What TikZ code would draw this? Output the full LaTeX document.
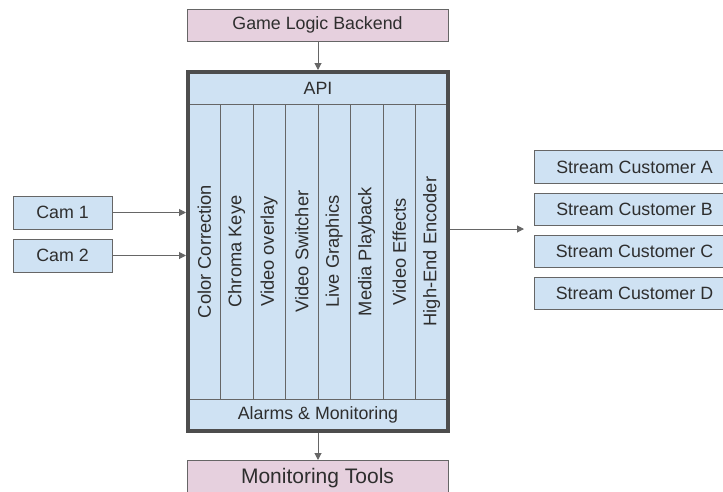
\documentclass[tikz,border=0pt]{standalone}
\usepackage{fontspec}
\setmainfont{Liberation Sans}
\usetikzlibrary{arrows.meta}
\definecolor{pinkf}{HTML}{E6D0DE}
\definecolor{bluef}{HTML}{CFE2F3}
\definecolor{edgec}{HTML}{666666}
\definecolor{framec}{HTML}{4D4D4D}
\definecolor{txtc}{HTML}{2E2E2E}
\tikzset{
  box/.style={draw=edgec, line width=1pt, inner sep=0pt, outer sep=0pt, text=txtc,
    font=\fontsize{17.8}{20}\selectfont},
  pinkbox/.style={box, fill=pinkf},
  bluebox/.style={box, fill=bluef},
  col/.style={draw=edgec, line width=0.8pt, fill=bluef, inner sep=0pt, outer sep=0pt,
    minimum width=32.5pt, minimum height=295pt, text=txtc, font=\fontsize{18.3}{20}\selectfont},
  conn/.style={draw=edgec, line width=1pt, -{Triangle[length=7pt,width=7pt]}},
}
\begin{document}
\begin{tikzpicture}[x=1pt,y=-1pt]
\useasboundingbox (0,0) rectangle (723,491);
% main frame
\node[draw=framec, line width=4pt, fill=bluef, minimum width=260pt, minimum height=359pt, inner sep=0pt, outer sep=2pt] (frame) at (318,251.5) {};
\node[bluebox, minimum width=260pt, minimum height=32pt] (api) at (318,88) {API};
\node[bluebox, minimum width=260pt, minimum height=32pt] (alarms) at (318,415) {Alarms \& Monitoring};
\node[col] (c1) at (204.25,251.5) {\rotatebox{90}{Color Correction}};
\node[col] (c2) at (236.75,251.5) {\rotatebox{90}{Chroma Keye}};
\node[col] (c3) at (269.25,251.5) {\rotatebox{90}{Video overlay}};
\node[col] (c4) at (301.75,251.5) {\rotatebox{90}{Video Switcher}};
\node[col] (c5) at (334.25,251.5) {\rotatebox{90}{Live Graphics}};
\node[col] (c6) at (366.75,251.5) {\rotatebox{90}{Media Playback}};
\node[col] (c7) at (399.25,251.5) {\rotatebox{90}{Video Effects}};
\node[col] (c8) at (431.75,251.5) {\rotatebox{90}{High-End Encoder}};
\draw[draw=framec, line width=4pt] (frame.center) ++(-130,-179.5) rectangle ++(260,359);
% top / bottom
\node[pinkbox, minimum width=261pt, minimum height=32pt] (glb) at (317.5,25) {Game Logic Backend};
\node[pinkbox, minimum width=261pt, minimum height=36pt, font=\fontsize{21}{24}\selectfont] (mon) at (317.5,478) {Monitoring Tools};
% cams
\node[bluebox, minimum width=99pt, minimum height=33pt] (cam1) at (62.5,212.5) {Cam 1};
\node[bluebox, minimum width=99pt, minimum height=33pt] (cam2) at (62.5,255.5) {Cam 2};
% streams
\node[bluebox, minimum width=201pt, minimum height=32.5pt] (sa) at (634.5,167) {Stream Customer A};
\node[bluebox, minimum width=201pt, minimum height=32.5pt] (sb) at (634.5,209.5) {Stream Customer B};
\node[bluebox, minimum width=201pt, minimum height=32.5pt] (sc) at (634.5,251.5) {Stream Customer C};
\node[bluebox, minimum width=201pt, minimum height=32.5pt] (sd) at (634.5,293.5) {Stream Customer D};
% connectors
\coordinate (sout) at (524,229);
\draw[conn] (glb.south -| frame.north) -- (frame.north);
\draw[conn] (frame.south) -- (frame.south |- mon.north);
\draw[conn] (cam1.east) -- (cam1.east -| frame.west);
\draw[conn] (cam2.east) -- (cam2.east -| frame.west);
\draw[conn] (sout -| frame.east) -- (sout);
\end{tikzpicture}
\end{document}
